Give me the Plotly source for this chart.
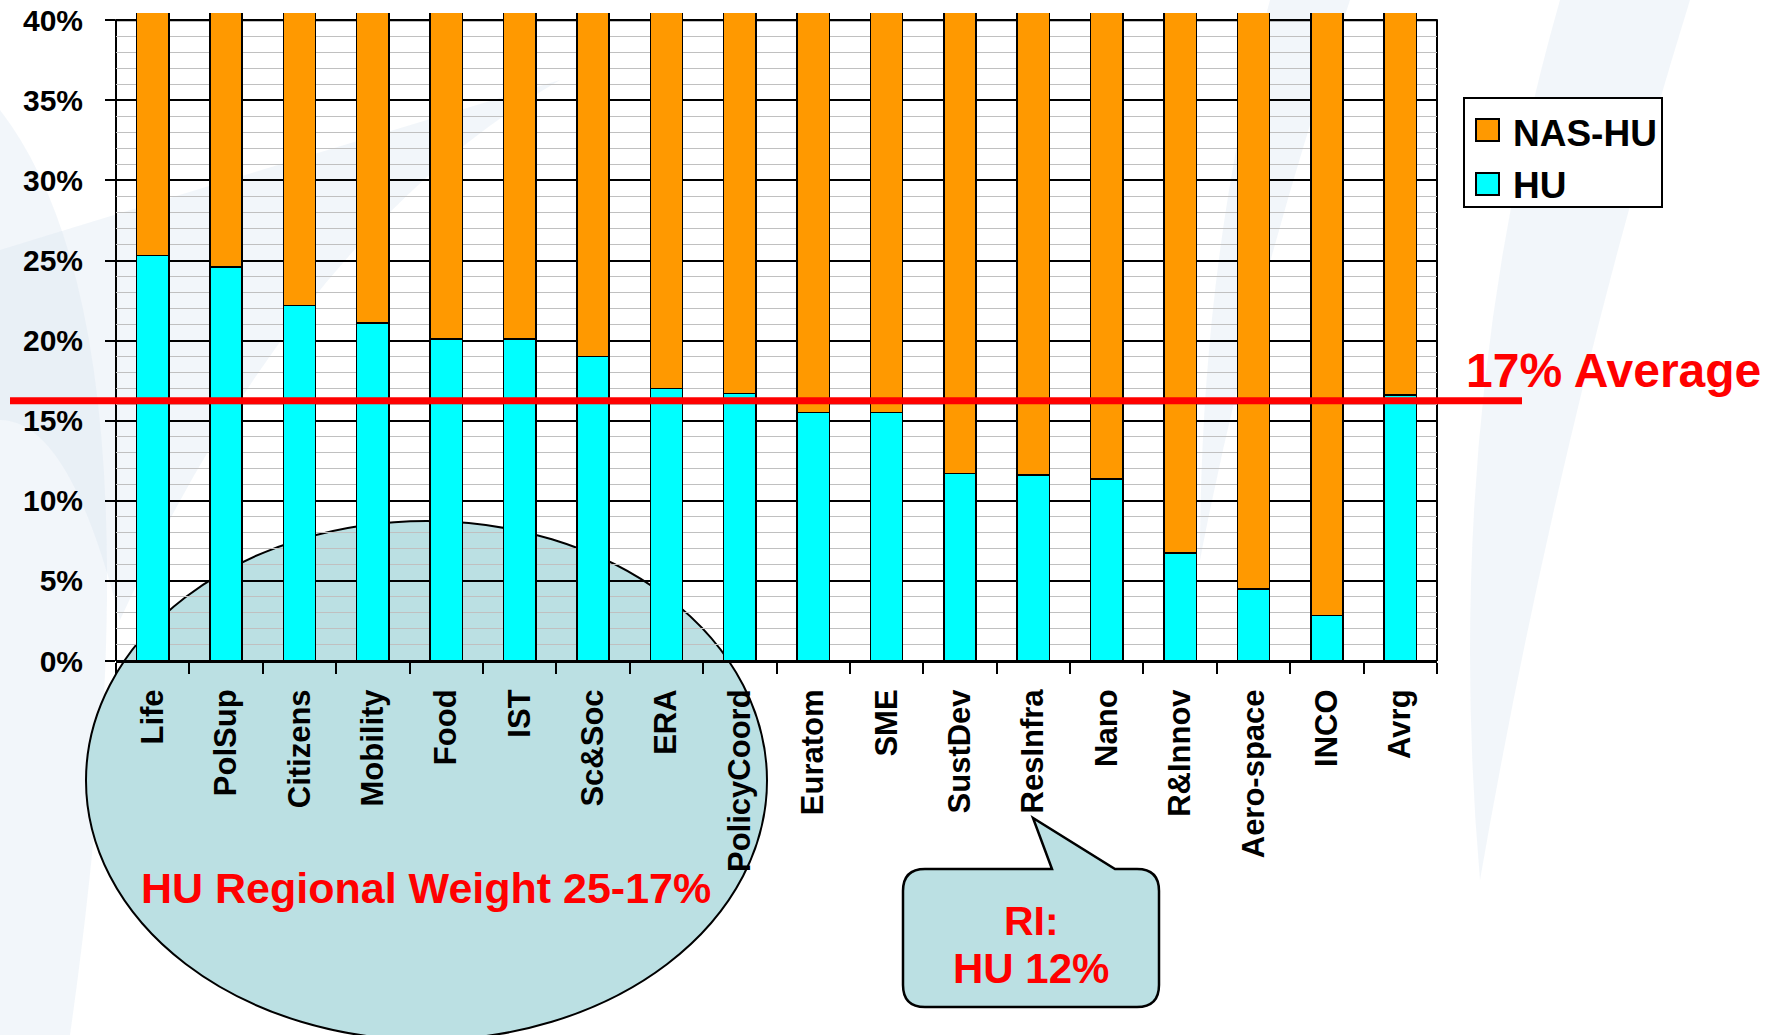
import plotly.graph_objects as go

# ---------------- data ----------------
categories = ["Life", "PolSup", "Citizens", "Mobility", "Food", "IST", "Sc&Soc", "ERA",
              "PolicyCoord", "Euratom", "SME", "SustDev", "ResInfra", "Nano", "R&Innov",
              "Aero-space", "INCO", "Avrg"]
hu_share = [25.3, 24.6, 22.2, 21.1, 20.1, 20.1, 19.0, 17.0, 16.7, 15.5, 15.5, 11.7,
            11.6, 11.35, 6.75, 4.5, 2.85, 16.6]
nas_hu_share = [100 - v for v in hu_share]
avg_line = 16.25
y_ticks = [0, 5, 10, 15, 20, 25, 30, 35, 40]
y_tick_labels = [f"{v}%" for v in y_ticks]
series_names = ["HU", "NAS-HU"]

# ---------------- geometry helpers (pixel -> paper) ----------------
W, H = 1780, 1035
PL, PR, PT, PB = 116, 1437, 13, 661
YMAX = 40.45


def px(x):
    return (x - PL) / (PR - PL)


def py(y):
    return (PB - y) / (PB - PT)


FONT = "Liberation Sans, Arial, sans-serif"
ORANGE = "#ff9900"
CYAN = "#00ffff"
BUBBLE = "#bbe0e3"

fig = go.Figure()
fig.add_trace(go.Bar(x=categories, y=hu_share, name=series_names[0],
                     marker=dict(color=CYAN, line=dict(color="black", width=1.5)),
                     showlegend=False))
fig.add_trace(go.Bar(x=categories, y=nas_hu_share, name=series_names[1],
                     marker=dict(color=ORANGE, line=dict(color="black", width=1.5)),
                     showlegend=False))

shapes = []

# faint background watermark swooshes
WM = "rgba(214,228,241,0.32)"
wm_paths = [
    f"M {px(0)},{py(110)} Q {px(170)},{py(330)} {px(70)},{py(1035)} L {px(0)},{py(1035)} Z",
    f"M {px(0)},{py(250)} Q {px(260)},{py(170)} {px(560)},{py(80)} Q {px(300)},{py(230)} {px(120)},{py(620)} Q {px(70)},{py(420)} {px(0)},{py(420)} Z",
    f"M {px(1560)},{py(0)} L {px(1690)},{py(0)} Q {px(1560)},{py(420)} {px(1480)},{py(880)} Q {px(1440)},{py(420)} {px(1560)},{py(0)} Z",
    f"M {px(1270)},{py(0)} L {px(1350)},{py(0)} Q {px(1250)},{py(300)} {px(1200)},{py(560)} Q {px(1200)},{py(260)} {px(1270)},{py(0)} Z",
]
for p in wm_paths:
    shapes.append(dict(type="path", xref="paper", yref="paper", path=p,
                       fillcolor=WM, line=dict(width=0), layer="below"))

# ellipse
shapes.append(dict(type="circle", xref="paper", yref="paper",
                   x0=px(86), x1=px(767), y0=py(1040), y1=py(521),
                   fillcolor=BUBBLE, line=dict(color="black", width=2), layer="below"))

# callout bubble
bx0, bx1, by0, by1, r = 903, 1159, 869, 1007, 22
tip = (1033, 818)
b_left, b_right = 1052, 1115
callout = (
    f"M {px(bx0 + r)},{py(by0)} L {px(b_left)},{py(by0)} L {px(tip[0])},{py(tip[1])} "
    f"L {px(b_right)},{py(by0)} L {px(bx1 - r)},{py(by0)} Q {px(bx1)},{py(by0)} {px(bx1)},{py(by0 + r)} "
    f"L {px(bx1)},{py(by1 - r)} Q {px(bx1)},{py(by1)} {px(bx1 - r)},{py(by1)} "
    f"L {px(bx0 + r)},{py(by1)} Q {px(bx0)},{py(by1)} {px(bx0)},{py(by1 - r)} "
    f"L {px(bx0)},{py(by0 + r)} Q {px(bx0)},{py(by0)} {px(bx0 + r)},{py(by0)} Z"
)
shapes.append(dict(type="path", xref="paper", yref="paper", path=callout,
                   fillcolor=BUBBLE, line=dict(color="black", width=2.5), layer="below"))

# plot-area border (0% .. 40%)
shapes.append(dict(type="rect", xref="paper", yref="y", x0=0, x1=1, y0=0, y1=y_ticks[-1],
                   line=dict(color="black", width=2), fillcolor="rgba(0,0,0,0)", layer="between"))

# average line
shapes.append(dict(type="line", xref="paper", yref="y", x0=px(10), x1=px(1522),
                   y0=avg_line, y1=avg_line, line=dict(color="#ff0000", width=7), layer="above"))

# legend (manual)
shapes.append(dict(type="rect", xref="paper", yref="paper", x0=px(1464), x1=px(1662),
                   y0=py(207), y1=py(98), fillcolor="white",
                   line=dict(color="black", width=2), layer="above"))
shapes.append(dict(type="rect", xref="paper", yref="paper", x0=px(1476), x1=px(1499),
                   y0=py(141), y1=py(119), fillcolor=ORANGE,
                   line=dict(color="black", width=2), layer="above"))
shapes.append(dict(type="rect", xref="paper", yref="paper", x0=px(1476), x1=px(1499),
                   y0=py(195), y1=py(173), fillcolor=CYAN,
                   line=dict(color="black", width=2), layer="above"))

annotations = [
    dict(text="<b>NAS-HU</b>", x=px(1511), y=py(133), xref="paper", yref="paper",
         xanchor="left", yanchor="middle", showarrow=False,
         font=dict(family=FONT, size=37, color="black")),
    dict(text="<b>HU</b>", x=px(1511), y=py(186), xref="paper", yref="paper",
         xanchor="left", yanchor="middle", showarrow=False,
         font=dict(family=FONT, size=37, color="black")),
    dict(text="<b>17% Average</b>", x=px(1464), y=py(370), xref="paper", yref="paper",
         xanchor="left", yanchor="middle", showarrow=False,
         font=dict(family=FONT, size=48, color="#ff0000")),
    dict(text="<b>HU Regional Weight 25-17%</b>", x=px(426), y=py(888), xref="paper", yref="paper",
         xanchor="center", yanchor="middle", showarrow=False,
         font=dict(family=FONT, size=43, color="#ff0000")),
    dict(text="<b>RI:</b>", x=px(1031), y=py(921), xref="paper", yref="paper",
         xanchor="center", yanchor="middle", showarrow=False,
         font=dict(family=FONT, size=41, color="#ff0000")),
    dict(text="<b>HU 12%</b>", x=px(1031), y=py(969), xref="paper", yref="paper",
         xanchor="center", yanchor="middle", showarrow=False,
         font=dict(family=FONT, size=42, color="#ff0000")),
]

fig.update_layout(
    width=W, height=H,
    margin=dict(l=PL, r=W - PR, t=PT, b=H - PB, pad=0, autoexpand=False),
    paper_bgcolor="white", plot_bgcolor="rgba(0,0,0,0)",
    barmode="stack", bargap=0.56,
    showlegend=False,
    shapes=shapes, annotations=annotations,
    font=dict(family=FONT, color="black"),
)
fig.update_xaxes(
    type="category", tickangle=-90, automargin=False,
    showline=True, linecolor="black", linewidth=2,
    ticks="outside", tickson="boundaries", ticklen=11, tickwidth=2, tickcolor="black",
    ticklabelstandoff=14,
    tickfont=dict(family=FONT, size=31, color="black", weight="bold"),
    showgrid=False, zeroline=False,
)
fig.update_yaxes(
    range=[0, YMAX], tickmode="array", tickvals=y_ticks, ticktext=y_tick_labels,
    automargin=False,
    showline=False, zeroline=False,
    ticks="outside", ticklen=10, tickwidth=2, tickcolor="black",
    ticklabelstandoff=16,
    tickfont=dict(family=FONT, size=30, color="black", weight="bold"),
    showgrid=True, gridcolor="black", gridwidth=1.6,
    minor=dict(dtick=1, showgrid=True, gridcolor="#c0c0c0", gridwidth=1.3, ticks=""),
)

fig.write_html("out.html", config={"displayModeBar": False},
               post_script="document.body.style.margin='0';document.body.style.overflow='hidden';")
